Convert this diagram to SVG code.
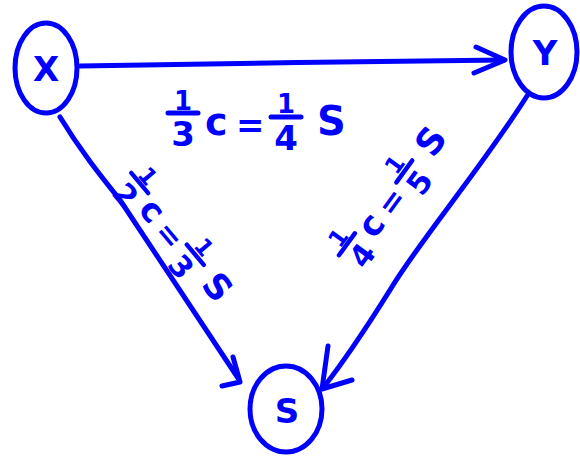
<svg xmlns="http://www.w3.org/2000/svg" width="580" height="456" viewBox="0 0 580 456">
<style>
.ink{fill:none;stroke:#0000ff;stroke-width:5;stroke-linecap:round;stroke-linejoin:round}
.lbl{fill:#0000ff;font-family:"DejaVu Sans",sans-serif;font-weight:bold}
.num{font-size:26px;text-anchor:middle}
.den{font-size:34px;text-anchor:middle}
.node{fill:#0000ff;font-family:"DejaVu Sans",sans-serif;font-weight:bold;font-size:34px;text-anchor:middle}
</style>
<defs>
<g id="eq-bar"><line class="ink" x1="0" y1="0" x2="30" y2="0"/></g>
</defs>
<rect width="580" height="456" fill="#ffffff"/>
<g id="connectors">
<path class="ink" d="M80,66 C200,64 380,61 504,60"/>
<path class="ink" d="M476,47 L505,60 L474,73"/>
<path class="ink" d="M60,117 C80,150 100,175 120,200 C160,260 200,320 238,378"/>
<path class="ink" d="M233,357 L240,382 L222,386"/>
<path class="ink" d="M527,96 C480,170 420,240 390,290 C365,330 345,360 323,388"/>
<path class="ink" d="M328,346 L322,389 L352,380"/>
</g>
<g id="node-x">
<ellipse class="ink" cx="46" cy="68" rx="31" ry="45"/>
<text class="node" x="46" y="81">X</text>
</g>
<g id="node-y">
<ellipse class="ink" cx="544" cy="52" rx="33" ry="46"/>
<text class="node" x="545" y="65">Y</text>
</g>
<g id="node-s">
<ellipse class="ink" cx="286" cy="409" rx="36" ry="43"/>
<text class="node" x="287" y="423">S</text>
</g>
<g id="label-xy" transform="translate(168,113)">
<text class="lbl num" x="15" y="-3">1</text>
<use href="#eq-bar"/>
<text class="lbl den" x="15" y="33">3</text>
<text class="lbl" x="37" y="22" font-size="38">c</text>
<text class="lbl" x="68" y="24" font-size="34">=</text>
<use href="#eq-bar" x="103" y="4"/>
<text class="lbl num" x="118" y="0">1</text>
<text class="lbl den" x="118" y="37">4</text>
<text class="lbl" x="149" y="22" font-size="40">S</text>
</g>
<g id="label-xs" transform="translate(135,187) rotate(50) scale(0.88) translate(-15,-7)">
<text class="lbl num" x="15" y="-3">1</text>
<use href="#eq-bar"/>
<text class="lbl den" x="15" y="33">2</text>
<text class="lbl" x="37" y="22" font-size="38">c</text>
<text class="lbl" x="68" y="24" font-size="34">=</text>
<use href="#eq-bar" x="103" y="4"/>
<text class="lbl num" x="118" y="0">1</text>
<text class="lbl den" x="118" y="37">3</text>
<text class="lbl" x="148" y="22" font-size="40">S</text>
</g>
<g id="label-ys" transform="translate(352,248) rotate(-54) scale(0.9) translate(-15,-7)">
<text class="lbl num" x="15" y="-3">1</text>
<use href="#eq-bar"/>
<text class="lbl den" x="15" y="33">4</text>
<text class="lbl" x="37" y="22" font-size="38">c</text>
<text class="lbl" x="68" y="24" font-size="34">=</text>
<use href="#eq-bar" x="103" y="4"/>
<text class="lbl num" x="118" y="0">1</text>
<text class="lbl den" x="118" y="37">5</text>
<text class="lbl" x="148" y="22" font-size="40">S</text>
</g>
</svg>
